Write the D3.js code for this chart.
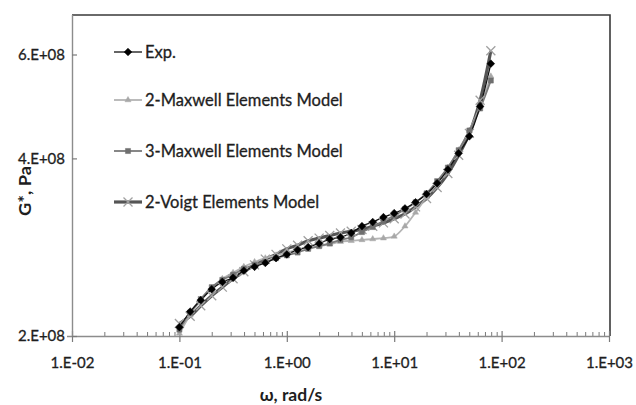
<!DOCTYPE html>
<html><head><meta charset="utf-8">
<script src="https://cdn.jsdelivr.net/npm/d3@7"></script>
<style>
html,body{margin:0;padding:0;background:#fff;}
svg{display:block;font-family:Lato,"Noto Sans",sans-serif;}
</style></head>
<body><svg id="chart" width="636" height="405"></svg>
<script>
// ---- data ----
const omega = [0.1,0.126,0.158,0.2,0.251,0.316,0.398,0.501,0.631,0.794,
               1,1.26,1.58,2,2.51,3.16,3.98,5.01,6.31,7.94,
               10,12.6,15.8,20,25.1,31.6,39.8,50.1,63.1,79.4];
const exp = [2.07,2.20,2.30,2.40,2.47,2.51,2.58,2.62,2.66,2.71,
             2.75,2.80,2.83,2.87,2.92,2.94,2.99,3.07,3.12,3.18,
             3.23,3.29,3.37,3.48,3.63,3.83,4.08,4.36,4.90,5.79].map(v=>v*1e8);
const maxwell2 = [2.02,2.17,2.30,2.41,2.50,2.56,2.62,2.67,2.71,2.74,
                  2.77,2.80,2.82,2.84,2.86,2.89,2.90,2.91,2.92,2.93,
                  2.95,3.07,3.24,3.44,3.64,3.86,4.13,4.46,4.90,5.51].map(v=>v*1e8);
const maxwell3 = [2.05,2.19,2.31,2.42,2.49,2.54,2.60,2.64,2.67,2.71,
                  2.74,2.77,2.81,2.84,2.87,2.91,2.94,3.00,3.06,3.13,
                  3.20,3.28,3.37,3.49,3.66,3.86,4.13,4.46,4.86,5.42].map(v=>v*1e8);
const voigt2 = [2.10,2.16,2.25,2.34,2.42,2.50,2.57,2.64,2.70,2.75,
                2.81,2.85,2.90,2.93,2.96,2.99,3.01,3.03,3.07,3.11,
                3.16,3.22,3.31,3.42,3.57,3.77,4.05,4.41,5.02,6.09].map(v=>v*1e8);
const seriesNames = ["Exp.","2-Maxwell Elements Model","3-Maxwell Elements Model","2-Voigt Elements Model"];
const xTickValues = [0.01,0.1,1,10,100,1000];
const xTickLabels = ["1.E-02","1.E-01","1.E+00","1.E+01","1.E+02","1.E+03"];
const yTickValues = [2e8,4e8,6e8];
const yTickLabels = ["2.E+08","4.E+08","6.E+08"];
const xTitle = "ω, rad/s";
const yTitle = "G*, Pa";

// ---- layout ----
const L=72, R=609, T=15, B=336;
const svg = d3.select("#chart");
const x = d3.scaleLog().domain([0.01,1000]).range([L,R]);
const y = d3.scaleLog().domain([2e8,7e8]).range([B,T]);
const textCol = "#1e1e1e";

// frame: top and right dark
svg.append("path").attr("d",`M${L},${T}H${R+1}V${B}`).attr("fill","none")
   .attr("stroke","#3a3a3a").attr("stroke-width",1.6);

// minor x ticks (inside)
const minors=[];
for (let d=-2; d<3; d++) for (let m=2;m<=9;m++) minors.push(m*Math.pow(10,d));
const gMinor = svg.append("g").attr("transform",`translate(0,${B})`)
  .call(d3.axisTop(x).tickValues(minors).tickSize(4).tickFormat(""));
gMinor.select(".domain").remove();
gMinor.selectAll("line").attr("stroke","#7a7a7a");

// major x axis
const gx = svg.append("g").attr("transform",`translate(0,${B})`)
  .call(d3.axisBottom(x).tickValues(xTickValues).tickSize(6).tickPadding(15)
        .tickFormat((d,i)=>xTickLabels[i]));
gx.select(".domain").attr("d",`M${L-5},0.5H${R}`).attr("stroke","#8c8c8c").attr("stroke-width",1.4);
gx.selectAll(".tick line").attr("y1",-5).attr("stroke","#7a7a7a").attr("stroke-width",1.2);
gx.selectAll(".tick text").attr("font-size",15).attr("fill",textCol).attr("font-family","Lato")
  .attr("stroke",textCol).attr("stroke-width",0.3);

// y axis
const gy = svg.append("g").attr("transform",`translate(${L},0)`)
  .call(d3.axisLeft(y).tickValues(yTickValues).tickSize(-5).tickPadding(7)
        .tickFormat((d,i)=>yTickLabels[i]));
gy.select(".domain").attr("d",`M0.5,${T}V${B}`).attr("stroke","#8c8c8c").attr("stroke-width",1.4);
gy.selectAll(".tick line").attr("stroke","#7a7a7a").attr("stroke-width",1.2);
gy.selectAll(".tick text").attr("font-size",15).attr("fill",textCol).attr("font-family","Lato")
  .attr("stroke",textCol).attr("stroke-width",0.3);

// titles
svg.append("text").attr("x",291).attr("y",401).attr("text-anchor","middle")
  .attr("font-weight","bold").attr("font-size",17.5).attr("fill",textCol).text(xTitle);
svg.append("text").attr("transform","translate(31,191) rotate(-90)").attr("text-anchor","middle")
  .attr("font-weight","bold").attr("font-size",17).attr("fill",textCol)
  .attr("textLength",50).attr("lengthAdjust","spacingAndGlyphs").text(yTitle);

// ---- series ----
const styles = [
  {vals:exp,      line:"#111",    lw:1.3, marker:"diamond",  mfill:"#000",    mstroke:"#000", size:30},
  {vals:maxwell2, line:"#b4b4b4", lw:1.8, marker:"triangle", mfill:"#a8a8a8", mstroke:"#a8a8a8", size:16},
  {vals:maxwell3, line:"#7a7a7a", lw:1.8, marker:"square",   mfill:"#6f6f6f", mstroke:"#6f6f6f", size:26},
  {vals:voigt2,   line:"#555555", lw:3.2, marker:"x",        mfill:"none",    mstroke:"#a0a0a0", size:9}
];
const symMap = {diamond:d3.symbolSquare, triangle:d3.symbolTriangle, square:d3.symbolSquare};
const line = d3.line().x((d,i)=>x(omega[i])).y(d=>y(d)).curve(d3.curveCatmullRom);

function drawMarker(g, s, px, py){
  if (s.marker==="x"){
    const h=s.size/2;
    g.append("path").attr("d",`M${px-h},${py-h}L${px+h},${py+h}M${px-h},${py+h}L${px+h},${py-h}`)
     .attr("stroke",s.mstroke).attr("stroke-width",1.3).attr("fill","none");
  } else {
    const rot = s.marker==="diamond" ? " rotate(45)" : "";
    g.append("path").attr("d",d3.symbol(symMap[s.marker],s.size)())
     .attr("transform",`translate(${px},${py})${rot}`).attr("fill",s.mfill).attr("stroke",s.mstroke).attr("stroke-width",0.5);
  }
}

const drawOrder=[3,1,2,0];
const gLines = svg.append("g");
drawOrder.forEach(k=>{
  const s=styles[k];
  gLines.append("path").datum(s.vals).attr("d",line).attr("fill","none")
    .attr("stroke",s.line).attr("stroke-width",s.lw);
});
drawOrder.forEach(k=>{
  const s=styles[k];
  const g=svg.append("g");
  s.vals.forEach((v,i)=>drawMarker(g,s,x(omega[i]),y(v)));
});

// ---- legend ----
const legY=[52,100,151,202];
styles.forEach((s,k)=>{
  const g=svg.append("g");
  const ly=legY[k];
  g.append("line").attr("x1",114).attr("x2",142).attr("y1",ly).attr("y2",ly)
   .attr("stroke",s.line).attr("stroke-width",s.lw);
  drawMarker(g,s,128,ly);
  g.append("text").attr("x",145).attr("y",ly+6).attr("font-size",16.5)
   .attr("fill",textCol).attr("stroke",textCol).attr("stroke-width",0.3).text(seriesNames[k]);
});
</script></body></html>
